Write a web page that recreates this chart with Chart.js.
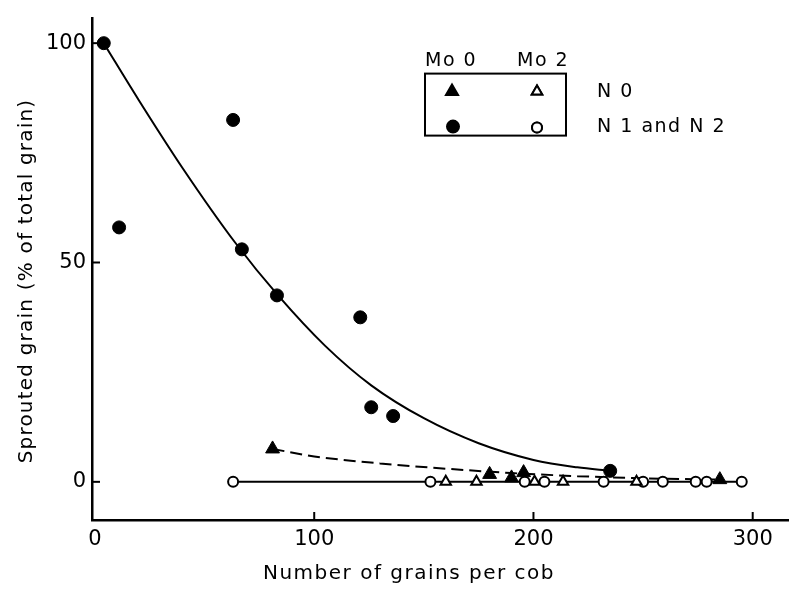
<!DOCTYPE html>
<html>
<head>
<meta charset="utf-8">
<script src="https://cdn.jsdelivr.net/npm/chart.js@4.4.1/dist/chart.umd.min.js"></script>
<style>
  html, body { margin: 0; padding: 0; background: #fff; }
  #wrap { width: 797px; height: 589px; }
</style>
</head>
<body>
<div id="wrap"><canvas id="grafico" width="797" height="589"></canvas></div>
<script>
// Mo 0, N 1 and N 2 (filled circles)
const mo0N12X = [4, 11, 63, 67, 83, 121, 126, 136, 235];
const mo0N12Y = [100, 58, 82.5, 53, 42.5, 37.5, 17, 15, 2.5];
// Mo 2, N 1 and N 2 (open circles)
const mo2N12X = [63, 153, 196, 205, 232, 250, 259, 274, 279, 295];
const mo2N12Y = [0, 0, 0, 0, 0, 0, 0, 0, 0, 0];
// Mo 0, N 0 (filled triangles)
const mo0N0X = [81, 180, 190, 195.5, 285];
const mo0N0Y = [7.5, 1.7, 0.9, 2.1, 0.5];
// Mo 2, N 0 (open triangles)
const mo2N0X = [160, 174, 200.5, 213.5, 247];
const mo2N0Y = [0, 0, 0, 0, 0];
// fitted curves
const curveX = [4, 20, 40, 64, 83.5, 105, 126, 150, 175, 200, 220, 235];
const curveY = [100, 87, 71.5, 54.5, 42.5, 31, 22, 14.5, 8.8, 5, 3.3, 2.5];
const dashX = [81, 100, 130, 160, 190, 220, 250, 285];
const dashY = [7.5, 5.8, 4.2, 3, 2, 1.3, 0.8, 0.5];

const xTicks = [0, 100, 200, 300];
const yTicks = [0, 50, 100];

const FONT = '"DejaVu Sans", sans-serif';

function pares(xs, ys) {
    return xs.map((x, i) => ({ x: x, y: ys[i] }));
}

// inward tick marks, axis titles and the boxed legend
const extras = {
    id: 'extras',
    afterDraw(chart) {
        const ctx = chart.ctx;
        const area = chart.chartArea;
        const sx = chart.scales.x;
        const sy = chart.scales.y;
        ctx.save();
        ctx.strokeStyle = '#000';
        ctx.fillStyle = '#000';
        ctx.lineWidth = 2;

        xTicks.forEach(v => {
            if (v === 0) return;
            const px = sx.getPixelForValue(v);
            ctx.beginPath();
            ctx.moveTo(px, area.bottom);
            ctx.lineTo(px, area.bottom - 8);
            ctx.stroke();
        });
        yTicks.forEach(v => {
            const py = sy.getPixelForValue(v);
            ctx.beginPath();
            ctx.moveTo(area.left, py);
            ctx.lineTo(area.left + 8, py);
            ctx.stroke();
        });

        // axis titles
        ctx.font = '20px ' + FONT;
        ctx.letterSpacing = '1.5px';
        ctx.textAlign = 'center';
        ctx.textBaseline = 'middle';
        ctx.fillText('Number of grains per cob', area.left + 317, 574);
        ctx.save();
        ctx.translate(27, 281);
        ctx.rotate(-Math.PI / 2);
        ctx.letterSpacing = '1.2px';
        ctx.fillText('Sprouted grain (% of total grain)', 0, 0);
        ctx.restore();

        // legend
        const lx = area.left + 333;
        const ly = area.top + 55;
        ctx.strokeRect(lx, ly, 141, 62);
        ctx.font = '19px ' + FONT;
        ctx.letterSpacing = '1.5px';
        ctx.textAlign = 'left';
        ctx.fillText('Mo 0', lx, ly - 13);
        ctx.fillText('Mo 2', lx + 92, ly - 13);
        ctx.fillText('N 0', lx + 172, ly + 18);
        ctx.fillText('N 1 and N 2', lx + 172, ly + 53);
        ctx.letterSpacing = '0px';

        const dp = Chart.helpers.drawPoint;
        ctx.fillStyle = '#000';
        dp(ctx, { pointStyle: 'triangle', radius: 7, rotation: 0, borderWidth: 1 }, lx + 27, ly + 18);
        ctx.fill();
        dp(ctx, { pointStyle: 'circle', radius: 6, rotation: 0, borderWidth: 1 }, lx + 28, ly + 53);
        ctx.fill();
        ctx.fillStyle = '#fff';
        ctx.lineWidth = 2;
        dp(ctx, { pointStyle: 'triangle', radius: 6, rotation: 0, borderWidth: 2 }, lx + 112, ly + 18);
        ctx.fill(); ctx.stroke();
        dp(ctx, { pointStyle: 'circle', radius: 5, rotation: 0, borderWidth: 2 }, lx + 112, ly + 54);
        ctx.fill(); ctx.stroke();
        ctx.restore();
    }
};

const ctx = document.getElementById('grafico').getContext('2d');

const grafico = new Chart(ctx, {
    type: 'scatter',
    data: {
        datasets: [
            {
                label: 'curve',
                data: pares(curveX, curveY),
                showLine: true,
                cubicInterpolationMode: 'monotone',
                borderColor: '#000',
                borderWidth: 2,
                pointRadius: 0,
                order: 5
            },
            {
                label: 'dashed',
                data: pares(dashX, dashY),
                showLine: true,
                cubicInterpolationMode: 'monotone',
                borderColor: '#000',
                borderWidth: 2,
                borderDash: [12, 6],
                pointRadius: 0,
                order: 4
            },
            {
                label: 'Mo 2, N 1 and N 2',
                data: pares(mo2N12X, mo2N12Y),
                showLine: true,
                borderColor: '#000',
                borderWidth: 2,
                pointStyle: 'circle',
                pointRadius: 5,
                pointBorderWidth: 2,
                pointBackgroundColor: '#fff',
                pointBorderColor: '#000',
                order: 3
            },
            {
                label: 'Mo 2, N 0',
                data: pares(mo2N0X, mo2N0Y),
                pointStyle: 'triangle',
                pointRadius: 6,
                pointBorderWidth: 2,
                pointBackgroundColor: '#fff',
                pointBorderColor: '#000',
                order: 2
            },
            {
                label: 'Mo 0, N 1 and N 2',
                data: pares(mo0N12X, mo0N12Y),
                pointStyle: 'circle',
                pointRadius: 6.5,
                pointBorderWidth: 1,
                pointBackgroundColor: '#000',
                pointBorderColor: '#000',
                order: 1
            },
            {
                label: 'Mo 0, N 0',
                data: pares(mo0N0X, mo0N0Y),
                pointStyle: 'triangle',
                pointRadius: 8,
                pointBorderWidth: 1,
                pointBackgroundColor: '#000',
                pointBorderColor: '#000',
                order: 0
            }
        ]
    },
    options: {
        responsive: false,
        animation: false,
        events: [],
        layout: { padding: { top: 10, right: 5, left: 0, bottom: 0 } },
        plugins: {
            legend: { display: false },
            tooltip: { enabled: false }
        },
        scales: {
            x: {
                type: 'linear',
                min: -1.36,
                max: 316.1,
                afterFit: s => { s.height = 69; },
                afterBuildTicks: s => { s.ticks = xTicks.map(v => ({ value: v })); },
                grid: { drawOnChartArea: false, drawTicks: false },
                border: { display: true, color: '#000', width: 2.5 },
                ticks: { color: '#000', padding: 7, font: { family: FONT, size: 21 } }
            },
            y: {
                type: 'linear',
                min: -8.7,
                max: 105.6,
                afterFit: s => { s.width = 92; },
                afterBuildTicks: s => { s.ticks = yTicks.map(v => ({ value: v })); },
                grid: { drawOnChartArea: false, drawTicks: false },
                border: { display: true, color: '#000', width: 2.5 },
                ticks: { color: '#000', padding: 6, font: { family: FONT, size: 21 } }
            }
        }
    },
    plugins: [extras]
});
</script>
</body>
</html>
